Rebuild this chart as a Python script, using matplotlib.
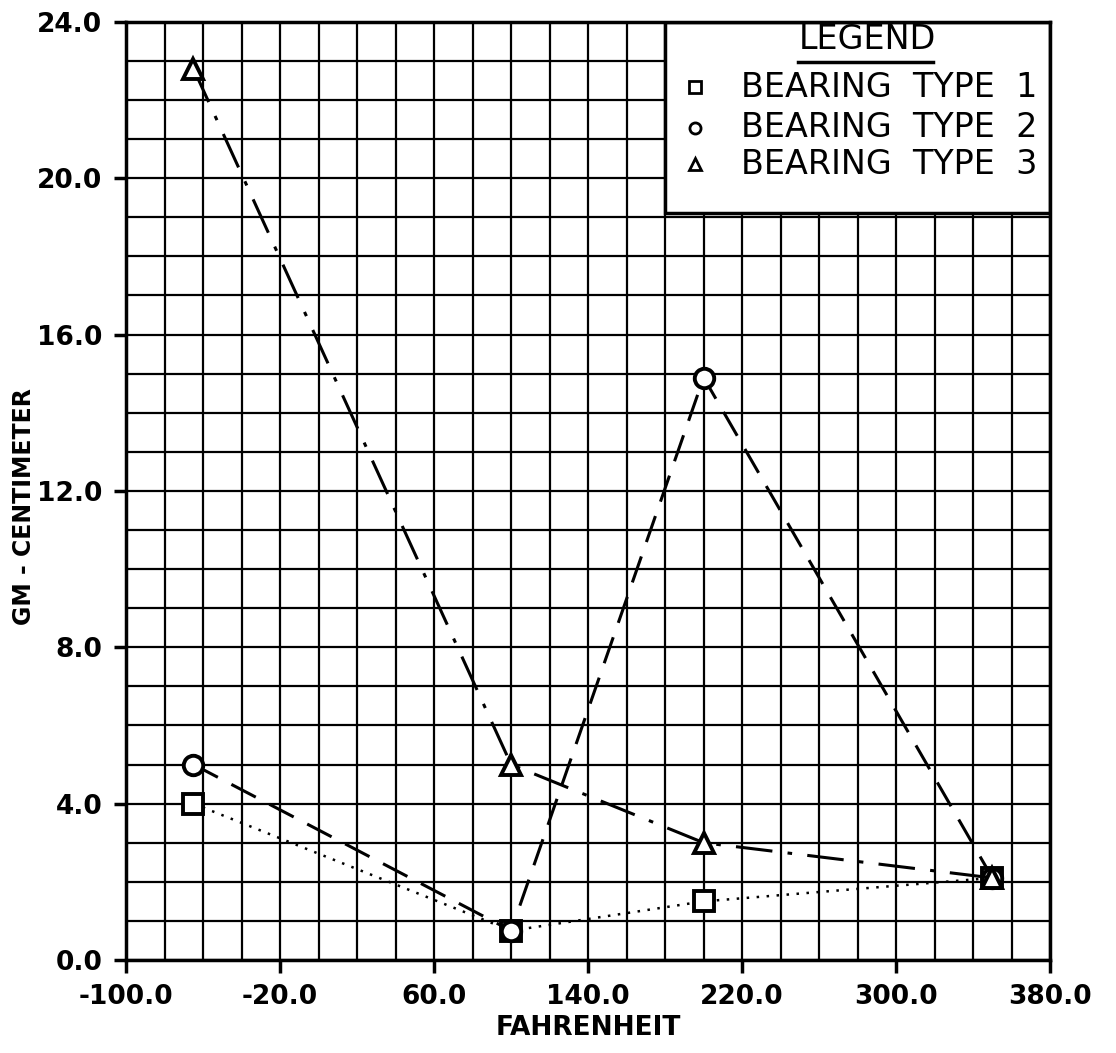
import matplotlib.pyplot as plt
import matplotlib.patches as patches
import numpy as np

# temperatures (F) and torque readings (gm-cm)
temps = [-65, 100, 200, 350]
type_1 = [4.0, 0.75, 1.5, 2.1]
type_2 = [5.0, 0.75, 14.9, 2.1]
type_3 = [22.8, 5.0, 3.0, 2.1]

x_ticks = [-100, -20, 60, 140, 220, 300, 380]
y_ticks = [0, 4, 8, 12, 16, 20, 24]
labels = ["BEARING  TYPE  1", "BEARING  TYPE  2", "BEARING  TYPE  3"]

plt.rcParams['font.family'] = ['DejaVu Sans']

fig = plt.figure(figsize=(11.16, 10.53), dpi=100)
ax = fig.add_axes([0.113, 0.0883, 0.828, 0.891])

ax.set_xlim(-100, 380)
ax.set_ylim(0, 24)
ax.set_xticks(x_ticks)
ax.set_yticks(y_ticks)
ax.set_xticks(np.arange(-100, 381, 20), minor=True)
ax.set_yticks(np.arange(0, 25, 1), minor=True)
ax.set_xticklabels(["%.1f" % v for v in x_ticks], fontsize=19, fontweight="bold")
ax.set_yticklabels(["%.1f" % v for v in y_ticks], fontsize=19, fontweight="bold")
ax.tick_params(which="major", direction="out", length=9, width=2.5, pad=8)
ax.tick_params(which="minor", length=0)

ax.set_axisbelow(True)
ax.grid(which="both", color="black", linewidth=1.6)
for s in ax.spines.values():
    s.set_linewidth(2.5)

# legend box covering the grid
box = patches.Rectangle((180, 19.1), 200, 4.9, facecolor="white",
                        edgecolor="black", linewidth=2.5, zorder=1)
ax.add_patch(box)

mk = dict(markersize=14, markerfacecolor="white", markeredgecolor="black",
          markeredgewidth=2.8, color="black", zorder=3)
ax.plot(temps, type_1, marker="s", linestyle=(0, (1, 3)), linewidth=1.8, **mk)
ax.plot(temps, type_2, marker="o", linestyle=(0, (9, 5)), linewidth=2.2, **mk)
ax.plot(temps, type_3, marker="^", linestyle=(0, (12, 5, 1.5, 5)), linewidth=2.2, **mk)

ax.set_xlabel("FAHRENHEIT", fontsize=19, fontweight="bold", labelpad=4)
ax.set_ylabel("GM - CENTIMETER", fontsize=17, fontweight="bold")
ax.yaxis.set_label_coords(-0.098, 0.483)

# hand-lettered legend
ax.text(0.802, 0.981, "LEGEND", transform=ax.transAxes, fontsize=24,
        ha="center", va="center", zorder=4)
ax.plot([0.727, 0.873], [0.957, 0.957], transform=ax.transAxes,
        color="black", linewidth=2.5, zorder=4, clip_on=False)
rows = [0.930, 0.887, 0.848]
markers = ["s", "o", "^"]
for m, yy, lab in zip(markers, rows, labels):
    ax.plot([0.616], [yy], marker=m, transform=ax.transAxes, markersize=8,
            markerfacecolor="white", markeredgecolor="black",
            markeredgewidth=2, zorder=4)
    ax.text(0.665, yy, lab, transform=ax.transAxes, fontsize=24,
            ha="left", va="center", zorder=4)

fig.savefig("out.png", dpi=100)
